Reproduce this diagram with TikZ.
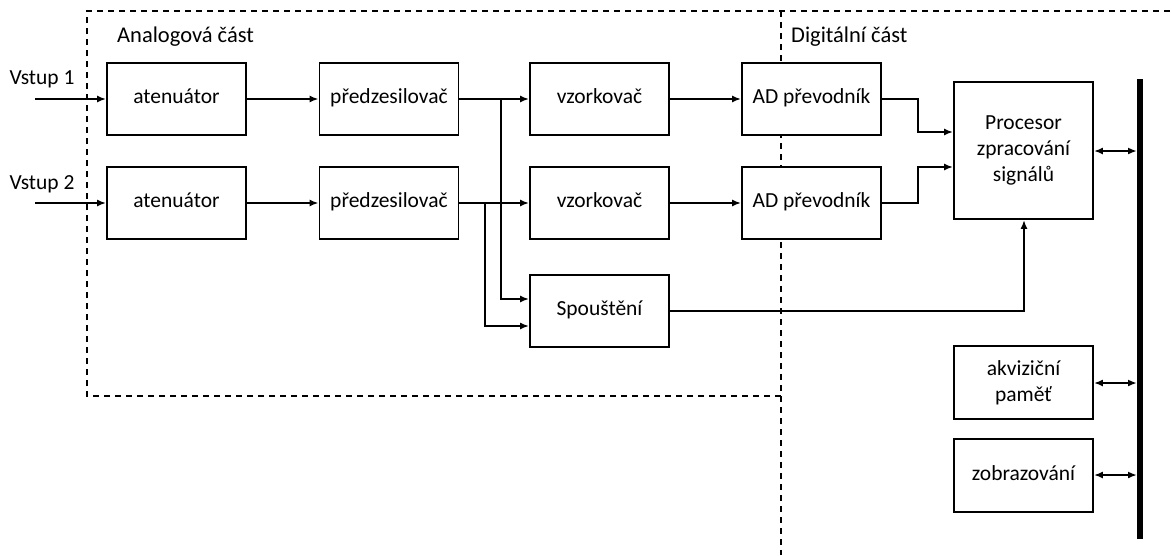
\documentclass[tikz,border=0pt]{standalone}
\usepackage{fontspec}
\setmainfont{Carlito}
\usetikzlibrary{arrows.meta}
\begin{document}
\begin{tikzpicture}[x=1pt,y=-1pt,
  blk/.style={draw,line width=1.8pt,fill=white,minimum width=139pt,minimum height=72pt,inner sep=0pt,align=center,font=\fontsize{21.5}{26}\selectfont},
  one/.style={text height=14pt,text depth=5pt},
  lbl/.style={font=\fontsize{21.5}{25}\selectfont,inner sep=0pt},
  head/.style={font=\fontsize{22.5}{26}\selectfont,inner sep=0pt,anchor=west},
  conn/.style={line width=1.8pt,-{Latex[length=9pt,width=7pt]}},
  biconn/.style={line width=1.8pt,{Latex[length=9pt,width=7pt]}-{Latex[length=9pt,width=7pt]}},
  bord/.style={line width=1.8pt,dash pattern=on 6pt off 5pt}]
\useasboundingbox (0,0) rectangle (1172,555);
% dashed borders
\draw[bord] (781,396) -- (87,396) -- (87,11) -- (1172,11);
\draw[bord] (781,11) -- (781,555);
\node[head] (ha) at (117,37) {Analogová část};
\node[head] (hd) at (791,37) {Digitální část};
% inputs
\node[lbl] (v1) at (42,79) {Vstup 1};
\node[lbl] (v2) at (42,184) {Vstup 2};
\coordinate (i1) at (35,99);
\coordinate (i2) at (35,203);
% boxes
\node[blk,one] (at1) at (176.5,99) {atenuátor};
\node[blk,one] (pz1) at (389,99) {předzesilovač};
\node[blk,one] (vz1) at (599.5,99) {vzorkovač};
\node[blk,one] (ad1) at (811.5,99) {AD převodník};
\node[blk,one] (at2) at (176.5,203) {atenuátor};
\node[blk,one] (pz2) at (389,203) {předzesilovač};
\node[blk,one] (vz2) at (599.5,203) {vzorkovač};
\node[blk,one] (ad2) at (811.5,203) {AD převodník};
\node[blk,one] (sp) at (599.5,311) {Spouštění};
\node[blk,minimum height=137pt] (proc) at (1023.5,150.5) {Procesor\\zpracování\\signálů};
\node[blk,minimum height=73pt] (mem) at (1023.5,382.5) {akviziční\\paměť};
\node[blk,one,minimum height=73pt] (disp) at (1023.5,475.5) {zobrazování};
% bus
\coordinate (bt) at (1140,79);
\coordinate (bb) at (1140,539);
\draw[line width=6pt] (bt) -- (bb);
% connectors
\draw[conn] (i1) -- (at1.west);
\draw[conn] (i2) -- (at2.west);
\draw[conn] (at1) -- (pz1);
\draw[conn] (at2) -- (pz2);
\draw[conn] (pz1) -- (vz1);
\draw[conn] (pz2) -- (vz2);
\draw[conn] (vz1) -- (ad1);
\draw[conn] (vz2) -- (ad2);
\draw[conn] (pz1.east) -| (501,299) -- (sp.west |- 0,299);
\draw[conn] (pz2.east) -| (485,326) -- (sp.west |- 0,326);
\draw[conn] (ad1.east) -| (918,132) -- (proc.west |- 0,132);
\draw[conn] (ad2.east) -| (918,167) -- (proc.west |- 0,167);
\draw[conn] (sp.east) -| (proc.south -| 1024,0);
\draw[biconn] (proc.east |- 0,151) -- (1137,151);
\draw[biconn] (mem.east |- 0,383) -- (1137,383);
\draw[biconn] (disp.east |- 0,475) -- (1137,475);
\end{tikzpicture}
\end{document}
